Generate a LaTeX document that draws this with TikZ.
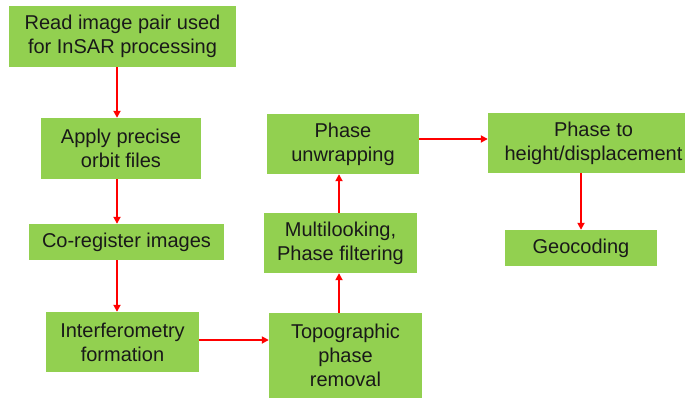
\documentclass[tikz,border=0pt]{standalone}
\usepackage{fontspec}
\setmainfont{Liberation Sans}
\usetikzlibrary{arrows.meta,calc}
\definecolor{boxgreen}{RGB}{146,208,80}
\definecolor{txt}{RGB}{25,25,25}
\definecolor{arrred}{RGB}{255,0,0}
\begin{document}
\begin{tikzpicture}[x=1pt,y=-1pt,
  box/.style={rectangle,fill=boxgreen,draw=none,inner sep=0pt,align=center,
    text=txt,font=\fontsize{20}{24}\selectfont},
  arr/.style={draw=arrred,line width=2.6pt,-{Triangle[length=7pt,width=7pt]}}]
\clip (0,0) rectangle (685,399);
\useasboundingbox (0,0) rectangle (685,399);
\node[box,minimum width=227pt,minimum height=61pt] (b1) at (122.5,36.5) {Read image pair used\\for InSAR processing};
\node[box,minimum width=160pt,minimum height=61pt] (b2) at (121,148.5) {Apply precise\\orbit files};
\node[box,minimum width=195pt,minimum height=36pt] (b3) at (126.5,242) {Co-register images};
\node[box,minimum width=153pt,minimum height=60pt] (b4) at (122.5,342) {Interferometry\\formation};
\node[box,minimum width=153pt,minimum height=85pt] (b5) at (345.5,355.5) {Topographic\\phase\\removal};
\node[box,minimum width=153pt,minimum height=60pt] (b6) at (340.5,243) {Multilooking,\\Phase filtering};
\node[box,minimum width=152pt,minimum height=60pt] (b7) at (343,144) {Phase\\unwrapping};
\node[box,minimum width=211pt,minimum height=60pt] (b8) at (593.5,143) {Phase to\\height/displacement};
\node[box,minimum width=152pt,minimum height=36pt] (b9) at (581,248) {Geocoding};
\coordinate (cx) at (117,0);
\coordinate (cy) at (0,340);
\coordinate (cz) at (0,139);
\coordinate (c5) at (339,0);
\coordinate (c9) at (581,0);
\draw[arr] (b1.south -| cx) -- (b2.north -| cx);
\draw[arr] (b2.south -| cx) -- (b3.north -| cx);
\draw[arr] (b3.south -| cx) -- (b4.north -| cx);
\draw[arr] (b4.east |- cy) -- (b5.west |- cy);
\draw[arr] (b5.north -| c5) -- (b6.south -| c5);
\draw[arr] (b6.north -| c5) -- (b7.south -| c5);
\draw[arr] (b7.east |- cz) -- (b8.west |- cz);
\draw[arr] (b8.south -| c9) -- (b9.north -| c9);
\end{tikzpicture}
\end{document}
